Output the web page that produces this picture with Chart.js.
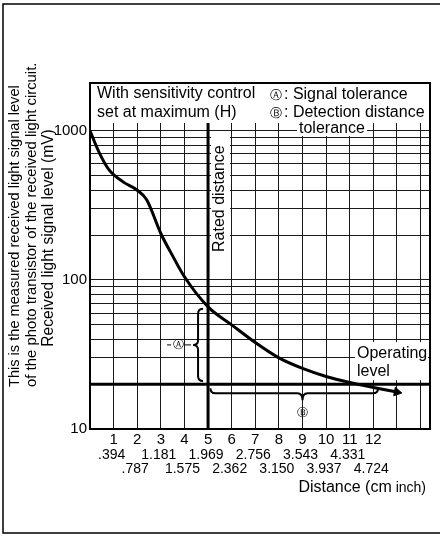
<!DOCTYPE html>
<html lang="en">
<head>
<meta charset="UTF-8">
<title>Received light signal level vs distance</title>
<script src="https://cdn.jsdelivr.net/npm/chart.js@4.4.0/dist/chart.umd.min.js"></script>
<style>
  body { margin: 0; background: #fff; }
  #wrap { width: 440px; height: 538px; }
</style>
</head>
<body>
<div id="wrap"><canvas id="chart" width="440" height="538"></canvas></div>
<script>
  // curve (cm, mV)
  const distanceCm = [0, 0.4, 0.8, 1.4, 2, 2.4, 3, 3.5, 4, 5, 6, 7, 8, 9, 10, 11, 12, 13];
  const signalMv = [1000, 710, 550, 455, 400, 345, 205, 145, 105, 66, 50, 38, 30, 25.5, 22.5, 20.5, 19, 17.7];

  const ratedDistance = 5;     // cm
  const operatingLevel = 20;   // mV

  const cmTicks = [0, 1, 2, 3, 4, 5, 6, 7, 8, 9, 10, 11, 12, 13, 14];
  const cmLabels = [1, 2, 3, 4, 5, 6, 7, 8, 9, 10, 11, 12];
  const inchLabels = ['.394', '.787', '1.181', '1.575', '1.969', '2.362',
                      '2.756', '3.150', '3.543', '3.937', '4.331', '4.724'];
  const mvGrid = [10, 20, 30, 40, 50, 60, 70, 80, 90,
                  100, 200, 300, 400, 500, 600, 700, 800, 900, 1000];
  const mvLabels = [10, 100, 1000];

  const toleranceA = [21, 64];     // mV, signal tolerance brace
  const toleranceB = [5.1, 12.2];  // cm, detection distance tolerance brace

  const FONT = "'Liberation Sans', Arial, Helvetica, sans-serif";
  const SYM = "'DejaVu Sans', sans-serif";
  Chart.defaults.font.family = FONT;
  Chart.defaults.color = '#000';

  function text(ctx, s, x, y, size, align, family) {
    ctx.font = size + 'px ' + (family || FONT);
    ctx.textAlign = align || 'left';
    ctx.fillText(s, x, y);
  }

  const overlay = {
    id: 'overlay',
    beforeDatasetsDraw(chart) {
      const { ctx, scales: { x, y } } = chart;
      ctx.save();
      ctx.fillStyle = '#fff';
      const rx = x.getPixelForValue(ratedDistance);
      ctx.fillRect(rx + 3, 137, 19, 118);                            // Rated distance
      ctx.fillRect(355, y.getPixelForValue(operatingLevel) - 42, 73, 38); // Operating level
      ctx.fillRect(297, 120, 70, 16);                                // tolerance
      ctx.restore();
    },
    afterDraw(chart) {
      const { ctx, chartArea: ca, scales: { x, y } } = chart;
      ctx.save();
      ctx.fillStyle = '#000';
      ctx.strokeStyle = '#000';
      ctx.textBaseline = 'alphabetic';

      // outer border of the figure
      ctx.lineWidth = 1.5;
      ctx.beginPath();
      ctx.moveTo(440, 4); ctx.lineTo(3, 4); ctx.lineTo(3, 533); ctx.lineTo(440, 533);
      ctx.stroke();

      // plot frame including the note box above 1000
      ctx.lineWidth = 2;
      ctx.strokeRect(ca.left, 83, ca.right - ca.left, ca.bottom - 83);

      // notes at the top
      text(ctx, 'With sensitivity control', 97, 98, 16);
      text(ctx, 'set at maximum (H)', 97, 117, 16);
      text(ctx, '\u24B6', 276, 99, 12, 'center', SYM);
      text(ctx, ': Signal tolerance', 284, 99, 16);
      text(ctx, '\u24B7', 276, 117, 12, 'center', SYM);
      text(ctx, ': Detection distance', 284, 117, 16);
      text(ctx, 'tolerance', 299, 133, 16);

      // rated distance label
      const rx = x.getPixelForValue(ratedDistance);
      ctx.save();
      ctx.translate(rx + 16, 252);
      ctx.rotate(-Math.PI / 2);
      text(ctx, 'Rated distance', 0, 0, 16);
      ctx.restore();

      // operating level label
      const oy = y.getPixelForValue(operatingLevel);
      text(ctx, 'Operating', 357, oy - 26, 16);
      text(ctx, 'level', 357, oy - 8, 16);

      // brace A (signal tolerance), tip to the left
      ctx.lineWidth = 2;
      const ya1 = y.getPixelForValue(toleranceA[1]);
      const ya2 = y.getPixelForValue(toleranceA[0]);
      const xs = rx - 10, xe = rx - 5, xt = rx - 15, ym = (ya1 + ya2) / 2;
      ctx.beginPath();
      ctx.moveTo(xe, ya1);
      ctx.quadraticCurveTo(xs, ya1, xs, ya1 + 5);
      ctx.lineTo(xs, ym - 5);
      ctx.quadraticCurveTo(xs, ym, xt, ym);
      ctx.quadraticCurveTo(xs, ym, xs, ym + 5);
      ctx.lineTo(xs, ya2 - 5);
      ctx.quadraticCurveTo(xs, ya2, xe, ya2);
      ctx.stroke();
      ctx.lineWidth = 1;
      ctx.beginPath();
      ctx.moveTo(xt - 8, ym); ctx.lineTo(xt - 2, ym);
      ctx.moveTo(xt - 26, ym); ctx.lineTo(xt - 22, ym);
      ctx.stroke();
      ctx.textBaseline = 'middle';
      text(ctx, '\u24B6', xt - 15, ym, 11, 'center', SYM);

      // brace B (detection distance tolerance), tip downwards
      ctx.lineWidth = 2;
      const xb1 = x.getPixelForValue(toleranceB[0]);
      const xb2 = x.getPixelForValue(toleranceB[1]);
      const xm = x.getPixelForValue(9);
      const ys = oy + 9, ye = oy + 4, yt = oy + 16;
      ctx.beginPath();
      ctx.moveTo(xb1, ye);
      ctx.quadraticCurveTo(xb1, ys, xb1 + 5, ys);
      ctx.lineTo(xm - 5, ys);
      ctx.quadraticCurveTo(xm, ys, xm, yt);
      ctx.quadraticCurveTo(xm, ys, xm + 5, ys);
      ctx.lineTo(xb2 - 5, ys);
      ctx.quadraticCurveTo(xb2, ys, xb2, ye);
      ctx.stroke();
      text(ctx, '\u24B7', xm, oy + 29, 11, 'center', SYM);

      // inch equivalents under the cm labels
      inchLabels.forEach((s, i) => {
        const px = x.getPixelForValue(cmLabels[i]) - 2;
        text(ctx, s, px, i % 2 === 0 ? 455 : 469, 14, 'center');
      });

      // x axis title
      ctx.font = '14px ' + FONT;
      const wInch = ctx.measureText(' inch)').width;
      text(ctx, ' inch)', 426, 488, 14, 'right');
      text(ctx, 'Distance (cm', 426 - wInch, 488, 16, 'right');

      // y axis title, three lines (last value = printed length in px)
      ctx.textBaseline = 'alphabetic';
      const lines = [
        ['This is the measured received light signal level', 19, 387, 'left', 302],
        ['of the photo transistor of the received light circuit.', 36, 387, 'left', 325],
        ['Received light signal level (mV)', 53, 238, 'center', 217]
      ];
      lines.forEach(([s, lx, ly, al, len]) => {
        ctx.font = '15px ' + FONT;
        const size = Math.min(16, 15 * len / ctx.measureText(s).width);
        ctx.save();
        ctx.translate(lx, ly);
        ctx.rotate(-Math.PI / 2);
        text(ctx, s, 0, 0, size.toFixed(1), al);
        ctx.restore();
      });
      ctx.restore();
    }
  };

  new Chart(document.getElementById('chart'), {
    type: 'line',
    data: {
      datasets: [
        {
          label: 'Received light signal level',
          data: distanceCm.map((d, i) => ({ x: d, y: signalMv[i] })),
          borderColor: '#000',
          backgroundColor: '#000',
          borderWidth: 3,
          cubicInterpolationMode: 'monotone',
          pointStyle: 'triangle',
          pointRadius: ctx => ctx.dataIndex === distanceCm.length - 1 ? 5 : 0,
          pointRotation: 101,
          pointBorderWidth: 1
        },
        {
          label: 'Operating level',
          data: [{ x: 0, y: operatingLevel }, { x: 14.4, y: operatingLevel }],
          borderColor: '#000',
          borderWidth: 3,
          pointRadius: 0
        },
        {
          label: 'Rated distance',
          data: [{ x: ratedDistance, y: 10 }, { x: ratedDistance, y: 1130 }],
          borderColor: '#000',
          borderWidth: 3,
          pointRadius: 0
        }
      ]
    },
    options: {
      responsive: false,
      animation: false,
      layout: { padding: { top: 123, right: 10, left: 0, bottom: 0 } },
      plugins: { legend: { display: false }, tooltip: { enabled: false } },
      scales: {
        x: {
          type: 'linear',
          min: 0,
          max: 14.4,
          afterBuildTicks: s => { s.ticks = cmTicks.map(v => ({ value: v })); },
          afterFit: s => { s.height = 109; },
          grid: { color: '#1a1a1a', lineWidth: 1, drawTicks: false },
          border: { display: false },
          ticks: {
            autoSkip: false,
            maxRotation: 0,
            padding: 2,
            font: { size: 15 },
            callback: v => cmLabels.includes(v) ? String(v) : ''
          }
        },
        y: {
          type: 'logarithmic',
          min: 10,
          max: 1130,
          afterBuildTicks: s => { s.ticks = mvGrid.map(v => ({ value: v })); },
          afterFit: s => { s.width = 90; },
          grid: { color: '#1a1a1a', lineWidth: 1, drawTicks: false },
          border: { display: false },
          ticks: {
            autoSkip: false,
            padding: 3,
            font: { size: 15 },
            callback: v => mvLabels.includes(v) ? String(v) : ''
          }
        }
      }
    },
    plugins: [overlay]
  });
</script>
</body>
</html>
